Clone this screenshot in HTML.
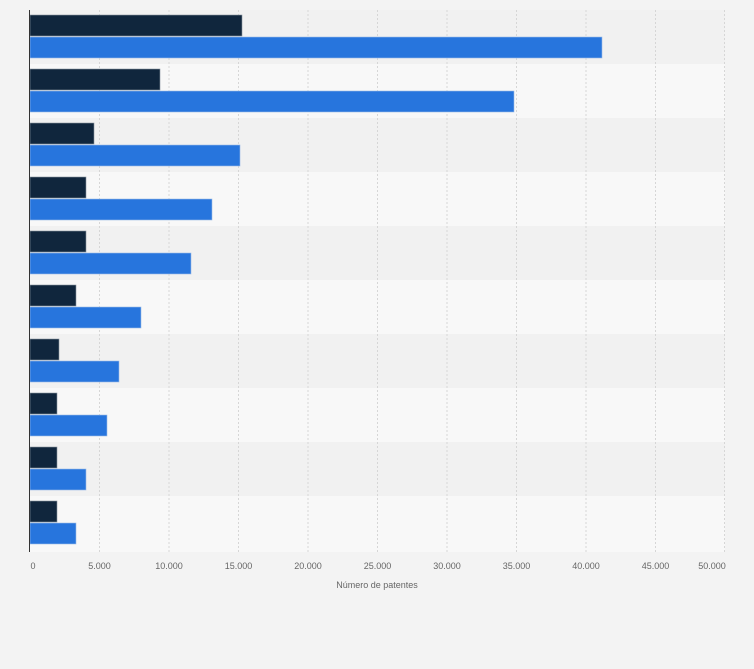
<!DOCTYPE html>
<html><head><meta charset="utf-8"><style>
body{margin:0;background:#f3f3f3;}
svg{display:block;font-family:"Liberation Sans",sans-serif;}
</style></head><body>
<svg width="754" height="669" xmlns="http://www.w3.org/2000/svg">
<rect width="754" height="669" fill="#f3f3f3"/>
<g id="bands"></g>
<script>
</script>
<rect x="30" y="10" width="695" height="54" fill="#f1f1f1"/>
<rect x="30" y="64" width="695" height="54" fill="#f8f8f8"/>
<rect x="30" y="118" width="695" height="54" fill="#f1f1f1"/>
<rect x="30" y="172" width="695" height="54" fill="#f8f8f8"/>
<rect x="30" y="226" width="695" height="54" fill="#f1f1f1"/>
<rect x="30" y="280" width="695" height="54" fill="#f8f8f8"/>
<rect x="30" y="334" width="695" height="54" fill="#f1f1f1"/>
<rect x="30" y="388" width="695" height="54" fill="#f8f8f8"/>
<rect x="30" y="442" width="695" height="54" fill="#f1f1f1"/>
<rect x="30" y="496" width="695" height="56" fill="#f8f8f8"/>
<g stroke="#d6d6d6" stroke-dasharray="2,2" stroke-width="1">
<line x1="99.5" y1="10" x2="99.5" y2="552"/><line x1="169" y1="10" x2="169" y2="552"/>
<line x1="238.5" y1="10" x2="238.5" y2="552"/><line x1="308" y1="10" x2="308" y2="552"/>
<line x1="377.5" y1="10" x2="377.5" y2="552"/><line x1="447" y1="10" x2="447" y2="552"/>
<line x1="516.5" y1="10" x2="516.5" y2="552"/><line x1="586" y1="10" x2="586" y2="552"/>
<line x1="655.5" y1="10" x2="655.5" y2="552"/><line x1="724.5" y1="10" x2="724.5" y2="552"/>
</g>
<g fill="#10263d" stroke="#8a94a0" stroke-width="0.6">
<rect x="30" y="15" width="212" height="21"/>
<rect x="30" y="69" width="130" height="21"/>
<rect x="30" y="123" width="64" height="21"/>
<rect x="30" y="177" width="56" height="21"/>
<rect x="30" y="231" width="56" height="21"/>
<rect x="30" y="285" width="46" height="21"/>
<rect x="30" y="339" width="29" height="21"/>
<rect x="30" y="393" width="27" height="21"/>
<rect x="30" y="447" width="27" height="21"/>
<rect x="30" y="501" width="27" height="21"/>
</g>
<g fill="#2775dd" stroke="#9bbbe6" stroke-width="0.6">
<rect x="30" y="37" width="572" height="21"/>
<rect x="30" y="91" width="484" height="21"/>
<rect x="30" y="145" width="210" height="21"/>
<rect x="30" y="199" width="182" height="21"/>
<rect x="30" y="253" width="161" height="21"/>
<rect x="30" y="307" width="111" height="21"/>
<rect x="30" y="361" width="89" height="21"/>
<rect x="30" y="415" width="77" height="21"/>
<rect x="30" y="469" width="56" height="21"/>
<rect x="30" y="523" width="46" height="21"/>
</g>
<line x1="29.5" y1="10" x2="29.5" y2="552" stroke="#333" stroke-width="1"/>
<g fill="#666" font-size="9" text-anchor="middle">
<text x="33" y="569">0</text><text x="99.5" y="569">5.000</text><text x="169" y="569">10.000</text>
<text x="238.5" y="569">15.000</text><text x="308" y="569">20.000</text><text x="377.5" y="569">25.000</text>
<text x="447" y="569">30.000</text><text x="516.5" y="569">35.000</text><text x="586" y="569">40.000</text>
<text x="655.5" y="569">45.000</text><text x="712" y="569">50.000</text>
<text x="377" y="588">Número de patentes</text>
</g>
</svg>
</body></html>
